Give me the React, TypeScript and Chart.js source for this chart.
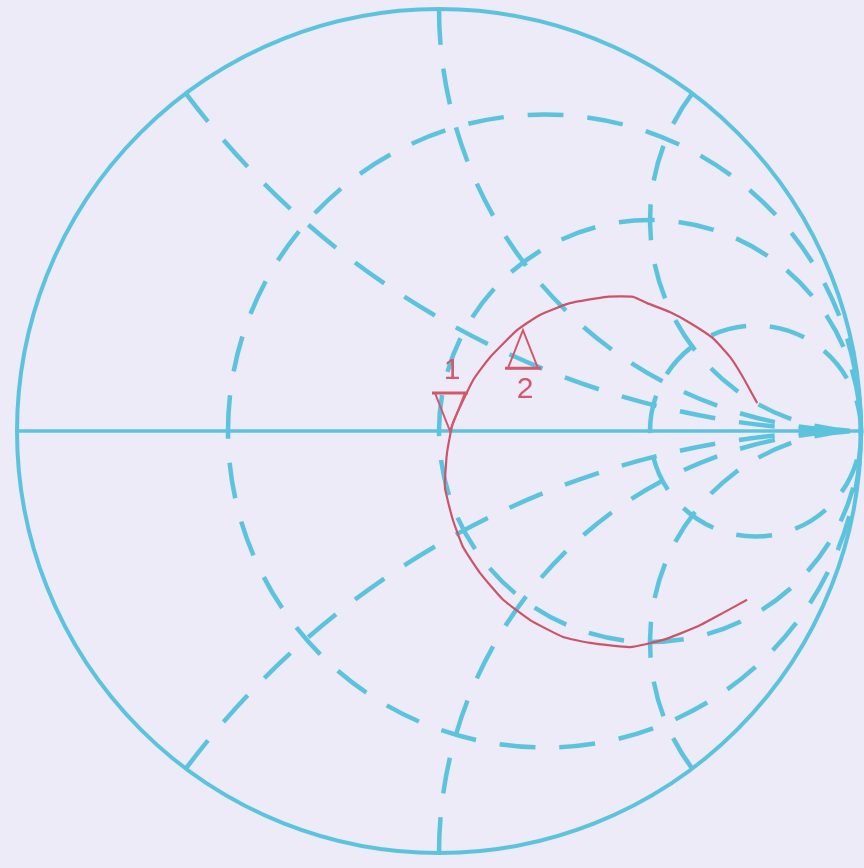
import React, { useEffect, useRef } from "react";
import { Chart, registerables } from "chart.js";

Chart.register(...registerables);

const TRACE_RE = [
  0.730, 0.673, 0.611, 0.531, 0.453, 0.358, 0.294, 0.216, 0.152, 0.097,
  0.057, 0.033, 0.014, 0.019, 0.033, 0.081, 0.121, 0.185, 0.239, 0.310,
  0.398, 0.460, 0.493, 0.547, 0.595, 0.649, 0.690, 0.720, 0.754,
];
const TRACE_IM = [
  -0.400, -0.431, -0.464, -0.495, -0.512, -0.502, -0.488, -0.448, -0.400, -0.336,
  -0.275, -0.211, -0.133, -0.052, 0.019, 0.121, 0.175, 0.239, 0.275, 0.303,
  0.318, 0.318, 0.303, 0.282, 0.256, 0.220, 0.175, 0.128, 0.066,
];

// Markers
const MARKER_LABELS = ["1", "2"];
const MARKER_RE = [0.026, 0.199];
const MARKER_IM = [0.0, 0.239];
const MARKER_DIR = ["down", "up"];

// Smith chart grid values
const RESISTANCE_CIRCLES = [1 / 3, 1, 3];
const REACTANCE_ARCS = [0.5, 1, 2];

// Axis ranges
const X_MIN = -1.0403;
const X_MAX = 1.0071;
const Y_MIN = -1.0355;
const Y_MAX = 1.0213;

const BG = "#ecebf7";
const GRID = "#5cc3de";
const TRACE = "#cc5468";
const MARK = "#d2586c";

const smithPlugin = {
  id: "smithGrid",
  beforeDraw(chart: any) {
    const { ctx, width, height } = chart;
    ctx.save();
    ctx.fillStyle = BG;
    ctx.fillRect(0, 0, width, height);
    ctx.restore();
  },
  beforeDatasetsDraw(chart: any) {
    const { ctx } = chart;
    const xs = chart.scales.x;
    const ys = chart.scales.y;
    const px = (v: number) => xs.getPixelForValue(v);
    const py = (v: number) => ys.getPixelForValue(v);
    const cx = px(0);
    const cy = py(0);
    const R = px(1) - px(0);

    ctx.save();
    ctx.strokeStyle = GRID;
    ctx.lineCap = "butt";

    // outer circle
    ctx.setLineDash([]);
    ctx.lineWidth = 4;
    ctx.beginPath();
    ctx.arc(cx, cy, R, 0, Math.PI * 2);
    ctx.stroke();

    // real axis
    ctx.lineWidth = 3.5;
    ctx.beginPath();
    ctx.moveTo(px(-1), cy);
    ctx.lineTo(px(1), cy);
    ctx.stroke();

    // resistance circles
    ctx.setLineDash([36, 24]);
    ctx.lineWidth = 4.5;
    RESISTANCE_CIRCLES.forEach((r) => {
      const c = r / (1 + r);
      const rad = 1 / (1 + r);
      ctx.beginPath();
      ctx.arc(px(c), cy, rad * R, Math.PI, Math.PI * 3);
      ctx.stroke();
    });

    // reactance arcs
    REACTANCE_ARCS.forEach((xv) => {
      const sRe = (xv * xv - 1) / (xv * xv + 1);
      const sIm = (2 * xv) / (xv * xv + 1);
      [1, -1].forEach((sign) => {
        const ccx = px(1);
        const ccy = py(sign / xv);
        const rad = R / xv;
        const spx = px(sRe);
        const spy = py(sign * sIm);
        const a0 = Math.atan2(spy - ccy, spx - ccx);
        const a1 = sign > 0 ? Math.PI / 2 : -Math.PI / 2;
        ctx.beginPath();
        ctx.arc(ccx, ccy, rad, a0, a1, sign > 0);
        ctx.stroke();
      });
    });
    ctx.restore();
  },
  afterDatasetsDraw(chart: any) {
    const { ctx } = chart;
    const xs = chart.scales.x;
    const ys = chart.scales.y;
    ctx.save();
    ctx.strokeStyle = MARK;
    ctx.fillStyle = MARK;
    ctx.setLineDash([]);
    ctx.font = "30px 'Liberation Sans', Arial, sans-serif";
    ctx.textAlign = "center";
    ctx.textBaseline = "middle";
    MARKER_LABELS.forEach((lab, i) => {
      const x = xs.getPixelForValue(MARKER_RE[i]);
      const y = ys.getPixelForValue(MARKER_IM[i]);
      const s = MARKER_DIR[i] === "down" ? -1 : 1;
      const h = 38;
      const w = 15;
      const by = y + s * h;
      ctx.lineWidth = 2;
      ctx.beginPath();
      ctx.moveTo(x, y);
      ctx.lineTo(x - w, by);
      ctx.lineTo(x + w, by);
      ctx.closePath();
      ctx.stroke();
      ctx.lineWidth = 3;
      ctx.beginPath();
      ctx.moveTo(x - w - 3, by);
      ctx.lineTo(x + w + 3, by);
      ctx.stroke();
      ctx.fillText(lab, x + 2, by + s * 22);
    });
    ctx.restore();
  },
};

export default function App() {
  const ref = useRef<HTMLCanvasElement | null>(null);
  useEffect(() => {
    document.body.style.margin = "0";
    if (!ref.current) return;
    const data = TRACE_RE.map((re, i) => ({ x: re, y: TRACE_IM[i] }));
    const chart = new Chart(ref.current, {
      type: "scatter",
      data: {
        datasets: [
          {
            data,
            showLine: true,
            borderColor: TRACE,
            borderWidth: 2.2,
            pointRadius: 0,
            tension: 0.15,
            fill: false,
          },
        ],
      },
      options: {
        animation: false,
        responsive: false,
        devicePixelRatio: 1,
        layout: { padding: 0 },
        plugins: { legend: { display: false }, tooltip: { enabled: false } },
        scales: {
          x: { type: "linear", min: X_MIN, max: X_MAX, display: false },
          y: { type: "linear", min: Y_MIN, max: Y_MAX, display: false },
        },
      },
      plugins: [smithPlugin],
    });
    return () => chart.destroy();
  }, []);
  return (
    <div style={{ position: "fixed", left: 0, top: 0, width: 864, height: 868, background: BG }}>
      <canvas ref={ref} width={864} height={868} style={{ width: 864, height: 868, display: "block" }} />
    </div>
  );
}
